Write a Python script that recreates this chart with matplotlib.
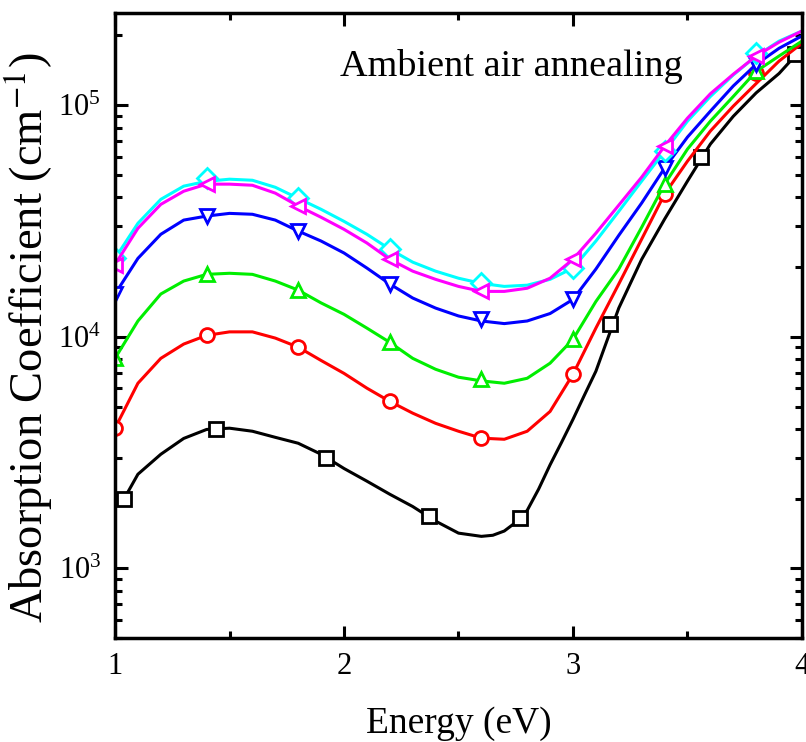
import numpy as np
import matplotlib
matplotlib.use("Agg")
import matplotlib.pyplot as plt
from matplotlib.ticker import LogLocator, MultipleLocator, NullFormatter

plt.rcParams['font.family'] = ['Liberation Serif', 'DejaVu Serif']
plt.rcParams['mathtext.fontset'] = 'stix'

# energy grid of the drawn curves (eV)
energy = [1.0, 1.1, 1.2, 1.3, 1.4, 1.5, 1.6, 1.7, 1.8, 1.9, 2.0,
          2.1, 2.2, 2.3, 2.4, 2.5, 2.6, 2.7, 2.8, 2.9, 3.0,
          3.1, 3.2, 3.3, 3.4, 3.5, 3.6, 3.7, 3.8, 3.9, 4.0]

# curve values (cm^-1)
red_curve = [4030, 6300, 8070, 9300, 10140, 10500, 10500, 9870, 9020, 7900, 6950,
             6000, 5260, 4680, 4230, 3910, 3650, 3610, 3910, 4760, 6890,
             10900, 16900, 26400, 41300, 57300, 77300, 99000, 124000, 155000, 185000]
green_curve = [8070, 11700, 15300, 17400, 18600, 18800, 18600, 17400, 15900, 14000, 12500,
               10900, 9460, 8070, 7240, 6690, 6450, 6300, 6620, 7690, 9750,
               14200, 19600, 29700, 45600, 64600, 85300, 109000, 140000, 163000, 189000]
blue_curve = [15300, 21800, 27700, 31900, 33200, 34100, 33800, 31900, 28600, 25900, 23000,
              19800, 16900, 14700, 13300, 12300, 11700, 11400, 11700, 12600, 14500,
              19600, 27400, 37800, 53500, 72800, 94200, 121000, 150000, 176000, 199000]
cyan_curve = [21800, 30900, 39200, 44700, 46900, 47900, 47400, 44200, 39600, 35500, 31500,
              27700, 23900, 21000, 19200, 17900, 17000, 16500, 16700, 17700, 19800,
              25900, 34800, 47000, 63200, 85300, 109000, 135000, 163000, 189000, 209000]
magenta_curve = [20500, 29400, 37300, 42500, 45600, 45600, 45100, 41700, 36700, 32800, 29100,
                 25400, 21600, 19200, 17700, 16500, 15700, 15700, 16200, 17900, 21600,
                 28000, 37000, 48900, 66500, 87900, 112000, 136000, 163000, 187000, 209000]

# black curve (as-deposited) is sampled on its own grid
black_energy = [1.04, 1.1, 1.2, 1.3, 1.4, 1.5, 1.6, 1.7, 1.8, 1.9, 2.0,
                2.1, 2.2, 2.3, 2.4, 2.5, 2.6, 2.65, 2.7, 2.75, 2.8, 2.85,
                2.9, 2.95, 3.0, 3.05, 3.1, 3.2, 3.3, 3.4, 3.5, 3.6, 3.7,
                3.8, 3.9, 4.0]
black_curve = [2000, 2550, 3110, 3640, 3980, 4030, 3910, 3680, 3470, 3110, 2700,
               2380, 2090, 1850, 1600, 1420, 1375, 1390, 1450, 1580, 1780, 2200,
               2800, 3500, 4400, 5600, 7100, 13300, 21600, 32200, 47000, 67900, 89500,
               113000, 137000, 176000]

# marker positions
black_mx = [1.04, 1.44, 1.92, 2.37, 2.77, 3.16, 3.56, 3.97]
black_my = [2000, 3980, 2985, 1690, 1645, 11400, 60000, 166000]
marker_x = [1.0, 1.4, 1.8, 2.2, 2.6, 3.0, 3.4, 3.8]
red_my = [4030, 10140, 9020, 5260, 3650, 6890, 41300, 137000]
green_my = [8070, 18600, 15900, 9460, 6550, 9750, 45600, 140000]
blue_my = [15300, 33200, 28600, 16900, 11900, 14500, 53500, 150000]
cyan_my = [21800, 48400, 39600, 23900, 17000, 19800, 63200, 168000]
magenta_my = [20500, 45600, 36700, 21600, 15700, 21600, 66500, 163000]

fig = plt.figure(figsize=(8.06, 7.42), dpi=100)
ax = fig.add_axes([0.1427, 0.140, 0.8523, 0.8425])

lw = 2.2
ms = 10
mew = 2.0

def draw(xc, yc, mx, my, color, marker):
    ax.plot(xc, yc, color=color, lw=lw)
    ax.plot(mx, my, linestyle='none', marker=marker, markersize=ms,
            markerfacecolor='white', markeredgecolor=color, markeredgewidth=mew)

draw(black_energy, black_curve, black_mx, black_my, 'black', 's')
draw(energy, red_curve, marker_x, red_my, '#ff0000', 'o')
draw(energy, green_curve, marker_x, green_my, '#00ee00', '^')
draw(energy, blue_curve, marker_x, blue_my, '#0000ff', 'v')
draw(energy, cyan_curve, marker_x, cyan_my, '#00ffff', 'D')
draw(energy, magenta_curve, marker_x, magenta_my, '#ff00ff', '<')

ax.set_yscale('log')
ax.set_xlim(1, 4)
ax.set_ylim(500, 2.5e5)

ax.xaxis.set_major_locator(MultipleLocator(1))
ax.xaxis.set_minor_locator(MultipleLocator(0.5))
ax.yaxis.set_major_locator(LogLocator(base=10, numticks=10))
ax.yaxis.set_minor_locator(LogLocator(base=10, subs=np.arange(2, 10), numticks=20))
ax.yaxis.set_minor_formatter(NullFormatter())

for s in ax.spines.values():
    s.set_linewidth(2.5)

ax.tick_params(which='both', direction='in', top=True, right=True, width=2.2,
               labelsize=22, pad=10)
ax.tick_params(which='major', length=9)
ax.tick_params(which='minor', length=5)

ax.set_xlabel('Energy (eV)', fontsize=27, labelpad=18)
ax.set_ylabel('Absorption Coefficient (cm$^{-1}$)', fontsize=33.5)
ax.yaxis.set_label_coords(-0.088, 0.48)

ax.text(0.327, 0.915, 'Ambient air annealing', transform=ax.transAxes,
        fontsize=27.5, ha='left', va='center')

fig.savefig('out.png', dpi=100, facecolor='white')
